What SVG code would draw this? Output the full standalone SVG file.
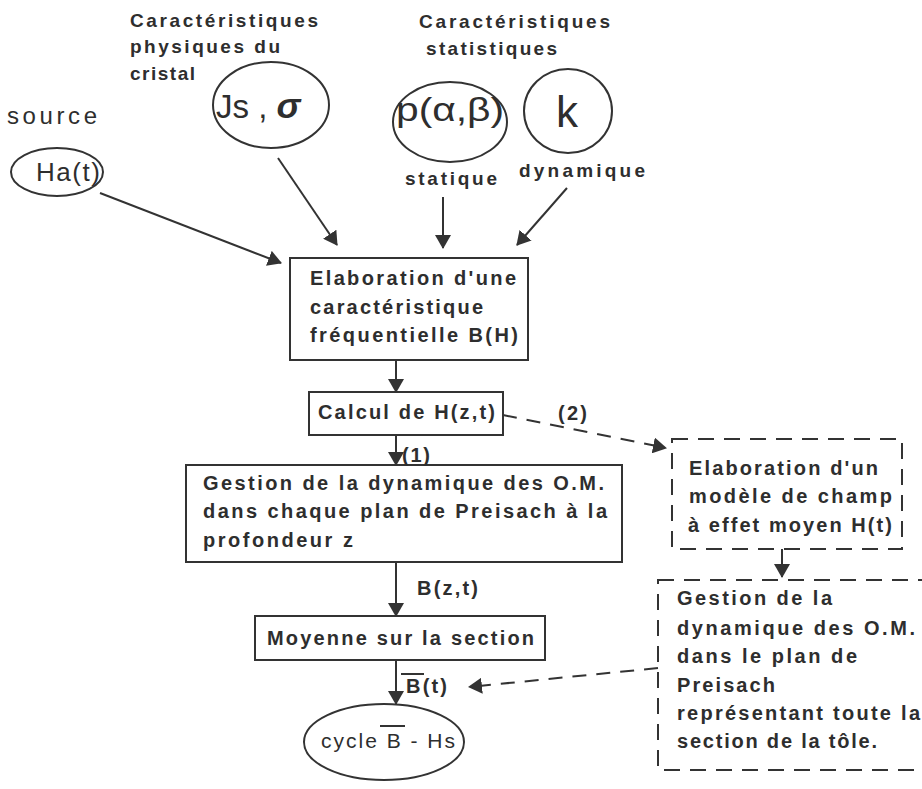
<svg xmlns="http://www.w3.org/2000/svg" width="922" height="789" viewBox="0 0 922 789">
<style>
  text { font-family: "Liberation Sans", Arial, sans-serif; fill: #2e2e2e; }
  .b { font-weight: bold; font-size: 20px; }
  .lb { font-weight: bold; font-size: 19px; }
  .r { font-size: 24px; }
  .shape { fill: #fff; stroke: #333; stroke-width: 2; }
  .dbox { fill: none; stroke: #333; stroke-width: 2; stroke-dasharray: 16 10; }
  .con { fill: none; stroke: #333; stroke-width: 2; }
  .dash { stroke-dasharray: 14 10; }
</style>
<defs>
  <marker id="ah" viewBox="0 0 14 16" refX="13" refY="8" markerWidth="14" markerHeight="16" markerUnits="userSpaceOnUse" orient="auto">
    <path d="M0,0 L14,8 L0,16 z" fill="#333"/>
  </marker>
</defs>
<rect width="922" height="789" fill="#fff"/>

<g id="n-source">
  <text class="r" x="7" y="124" textLength="90" lengthAdjust="spacing">source</text>
  <ellipse class="shape" cx="57" cy="172" rx="46" ry="24"/>
  <text x="36" y="181" font-size="26" textLength="64" lengthAdjust="spacing">Ha(t)</text>
</g>

<g id="n-crystal">
  <text class="lb" x="130" y="27" textLength="188" lengthAdjust="spacing">Caractéristiques</text>
  <text class="lb" x="130" y="53" textLength="150" lengthAdjust="spacing">physiques du</text>
  <text class="lb" x="130" y="80" textLength="65" lengthAdjust="spacing">cristal</text>
  <ellipse class="shape" cx="271" cy="105" rx="58" ry="43"/>
  <text x="216" y="118" font-size="33">Js , <tspan font-weight="bold" font-style="italic" font-size="36">σ</tspan></text>
</g>

<g id="n-stat">
  <text class="lb" x="419" y="28" textLength="191" lengthAdjust="spacing">Caractéristiques</text>
  <text class="lb" x="426" y="55" textLength="131" lengthAdjust="spacing">statistiques</text>
  <ellipse class="shape" cx="450" cy="122" rx="57" ry="40"/>
  <text x="396" y="121" font-size="34" textLength="108" lengthAdjust="spacingAndGlyphs">p(α,β)</text>
  <text class="lb" x="405" y="185" textLength="92" lengthAdjust="spacing">statique</text>
</g>

<g id="n-k">
  <ellipse class="shape" cx="568" cy="111" rx="44" ry="42"/>
  <text x="567" y="127" font-size="44" text-anchor="middle">k</text>
  <text class="lb" x="519" y="177" textLength="126" lengthAdjust="spacing">dynamique</text>
</g>

<g id="n-elab">
  <rect class="shape" x="290" y="258" width="238" height="102"/>
  <text class="b" x="310" y="285" textLength="206" lengthAdjust="spacing">Elaboration d'une</text>
  <text class="b" x="310" y="314" textLength="173" lengthAdjust="spacing">caractéristique</text>
  <text class="b" x="310" y="342" textLength="208" lengthAdjust="spacing">fréquentielle B(H)</text>
</g>

<g id="n-calcul">
  <rect class="shape" x="309" y="392" width="194" height="43"/>
  <text class="b" x="318" y="419" textLength="177" lengthAdjust="spacing">Calcul de H(z,t)</text>
</g>

<g id="n-gestion">
  <rect class="shape" x="186" y="465" width="436" height="97"/>
  <text class="b" x="203" y="490" textLength="401" lengthAdjust="spacing">Gestion de la dynamique des O.M.</text>
  <text class="b" x="203" y="518" textLength="404" lengthAdjust="spacing">dans chaque plan de Preisach à la</text>
  <text class="b" x="203" y="547" textLength="150" lengthAdjust="spacing">profondeur z</text>
</g>

<g id="n-moyenne">
  <rect class="shape" x="255" y="616" width="290" height="44"/>
  <text class="b" x="267" y="645" textLength="267" lengthAdjust="spacing">Moyenne sur la section</text>
</g>

<g id="n-cycle">
  <ellipse class="shape" cx="384" cy="742" rx="80" ry="38"/>
  <text x="321" y="748" font-size="21" textLength="134" lengthAdjust="spacing">cycle B - Hs</text>
  <line x1="380" y1="726" x2="405" y2="726" stroke="#333" stroke-width="2"/>
</g>

<g id="n-meanfield">
  <rect class="dbox" x="672" y="439" width="230" height="110"/>
  <text class="b" x="689" y="475" textLength="189" lengthAdjust="spacing">Elaboration d'un</text>
  <text class="b" x="689" y="503" textLength="203" lengthAdjust="spacing">modèle de champ</text>
  <text class="b" x="688" y="532" textLength="204" lengthAdjust="spacing">à effet moyen H(t)</text>
</g>

<g id="n-gestion2">
  <rect class="dbox" x="658" y="580" width="280" height="190"/>
  <text class="b" x="677" y="605" textLength="155" lengthAdjust="spacing">Gestion de la</text>
  <text class="b" x="677" y="635" textLength="238" lengthAdjust="spacing">dynamique des O.M.</text>
  <text class="b" x="677" y="663" textLength="180" lengthAdjust="spacing">dans le plan de</text>
  <text class="b" x="677" y="692" textLength="98" lengthAdjust="spacing">Preisach</text>
  <text class="b" x="677" y="720" textLength="243" lengthAdjust="spacing">représentant toute la</text>
  <text class="b" x="677" y="748" textLength="200" lengthAdjust="spacing">section de la tôle.</text>
</g>

<g id="connectors">
  <line class="con" x1="100" y1="193" x2="281" y2="263" marker-end="url(#ah)"/>
  <line class="con" x1="278" y1="158" x2="337" y2="245" marker-end="url(#ah)"/>
  <line class="con" x1="443" y1="197" x2="443" y2="248" marker-end="url(#ah)"/>
  <line class="con" x1="567" y1="188" x2="517" y2="245" marker-end="url(#ah)"/>
  <line class="con" x1="396" y1="360" x2="396" y2="392" marker-end="url(#ah)"/>
  <line class="con" x1="396" y1="435" x2="396" y2="465" marker-end="url(#ah)"/>
  <text class="b" x="402" y="462" textLength="28" lengthAdjust="spacing">(1)</text>
  <line class="con" x1="396" y1="562" x2="396" y2="616" marker-end="url(#ah)"/>
  <text class="b" x="417" y="595" textLength="61" lengthAdjust="spacing">B(z,t)</text>
  <line class="con" x1="396" y1="660" x2="396" y2="704" marker-end="url(#ah)"/>
  <text class="b" x="406" y="693" textLength="41" lengthAdjust="spacing">B(t)</text>
  <line x1="401" y1="674" x2="424" y2="674" stroke="#333" stroke-width="2"/>
  <line class="con dash" x1="503" y1="415" x2="666" y2="448" marker-end="url(#ah)"/>
  <text class="b" x="558" y="420" textLength="29" lengthAdjust="spacing">(2)</text>
  <line class="con" x1="782" y1="549" x2="782" y2="577" marker-end="url(#ah)"/>
  <line class="con dash" x1="658" y1="668" x2="469" y2="687" marker-end="url(#ah)"/>
</g>
</svg>
